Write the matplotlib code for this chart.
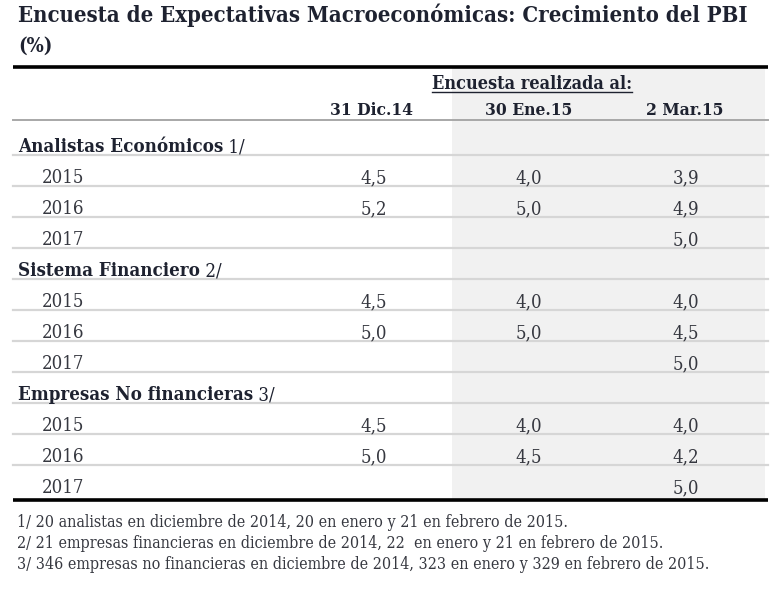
import matplotlib
matplotlib.use("Agg")
from matplotlib import pyplot as plt

# table content
title = "Encuesta de Expectativas Macroeconómicas: Crecimiento del PBI"
unit = "(%)"
survey_label = "Encuesta realizada al:"
dates = ["31 Dic.14", "30 Ene.15", "2 Mar.15"]
sections = ["Analistas Económicos", "Sistema Financiero", "Empresas No financieras"]
notes = ["1/", "2/", "3/"]
years = ["2015", "2016", "2017"]
analistas = [[4.5, 4.0, 3.9], [5.2, 5.0, 4.9], [None, None, 5.0]]
sistema = [[4.5, 4.0, 4.0], [5.0, 5.0, 4.5], [None, None, 5.0]]
empresas = [[4.5, 4.0, 4.0], [5.0, 4.5, 4.2], [None, None, 5.0]]
footnotes = [
    "1/ 20 analistas en diciembre de 2014, 20 en enero y 21 en febrero de 2015.",
    "2/ 21 empresas financieras en diciembre de 2014, 22  en enero y 21 en febrero de 2015.",
    "3/ 346 empresas no financieras en diciembre de 2014, 323 en enero y 329 en febrero de 2015.",
]

W, H = 771, 589
plt.rcParams['font.family'] = ['DejaVu Serif']
plt.rcParams['font.stretch'] = 'condensed'
fig = plt.figure(figsize=(W / 100, H / 100), dpi=100)
ax = fig.add_axes([0, 0, 1, 1])
ax.set_xlim(0, W)
ax.set_ylim(H, 0)
ax.axis('off')

dark = '#1e2230'
body = '#363840'
left, right = 13, 768
val_right = [387, 542, 699]
head_right = [413, 572, 723]

ax.text(18, 22, title, fontsize=15.8, fontweight='bold', color=dark, va='baseline')
ax.text(18, 52, unit, fontsize=14.5, fontweight='bold', color=dark, va='baseline')

# rows: header line then section/year rows
row_h = 31
top_table = 67
head_line = 120
rows = []
for s, note, vals in zip(sections, notes, [analistas, sistema, empresas]):
    rows.append(('sec', s, note))
    for y, v in zip(years, vals):
        rows.append(('yr', y, v))

bottoms = [head_line + 35 + row_h * i for i in range(len(rows))]
bottom_table = bottoms[-1] + 4

# shaded columns (survey of Jan and Mar)
ax.axvspan(452, 765, ymin=1 - bottom_table / H, ymax=1 - top_table / H,
           color='#f1f1f1', lw=0, zorder=0)

ax.plot([left, right], [top_table, top_table], color='black', lw=2.6, solid_capstyle='butt')
ax.plot([left, right], [head_line, head_line], color='#a8a8a8', lw=1.4)
for b in bottoms[:-1]:
    ax.plot([left, right], [b, b], color='#d6d6d6', lw=1.6)
ax.plot([left, right], [bottom_table, bottom_table], color='black', lw=2.6, solid_capstyle='butt')

t = ax.text(532, 89, survey_label, fontsize=13, fontweight='bold', color=dark,
            ha='center', va='baseline')
fig.canvas.draw()
bb = t.get_window_extent().transformed(ax.transData.inverted())
ax.plot([bb.x0, bb.x1], [92, 92], color=dark, lw=1.0)

for d, xr in zip(dates, head_right):
    ax.text(xr, 115, d, fontsize=12.5, fontweight='bold', color=dark, ha='right', va='baseline')

for r, b in zip(rows, bottoms):
    base = b - 3
    if r[0] == 'sec':
        st = ax.text(18, base, r[1], fontsize=13.4, fontweight='bold', color=dark, va='baseline')
        ax.annotate(' ' + r[2], xy=(1, base), xycoords=(st, 'data'), fontsize=13.4,
                    color=dark, va='baseline')
    else:
        ax.text(42, base, r[1], fontsize=13.3, color=body, va='baseline')
        for v, xr in zip(r[2], val_right):
            if v is not None:
                ax.text(xr, base, f"{v:.1f}".replace('.', ','), fontsize=13.3,
                        color=body, ha='right', va='baseline')

for i, f in enumerate(footnotes):
    ax.text(17, 527 + 21 * i, f, fontsize=11.5, color=body, va='baseline')

plt.savefig('out.png', dpi=100)
